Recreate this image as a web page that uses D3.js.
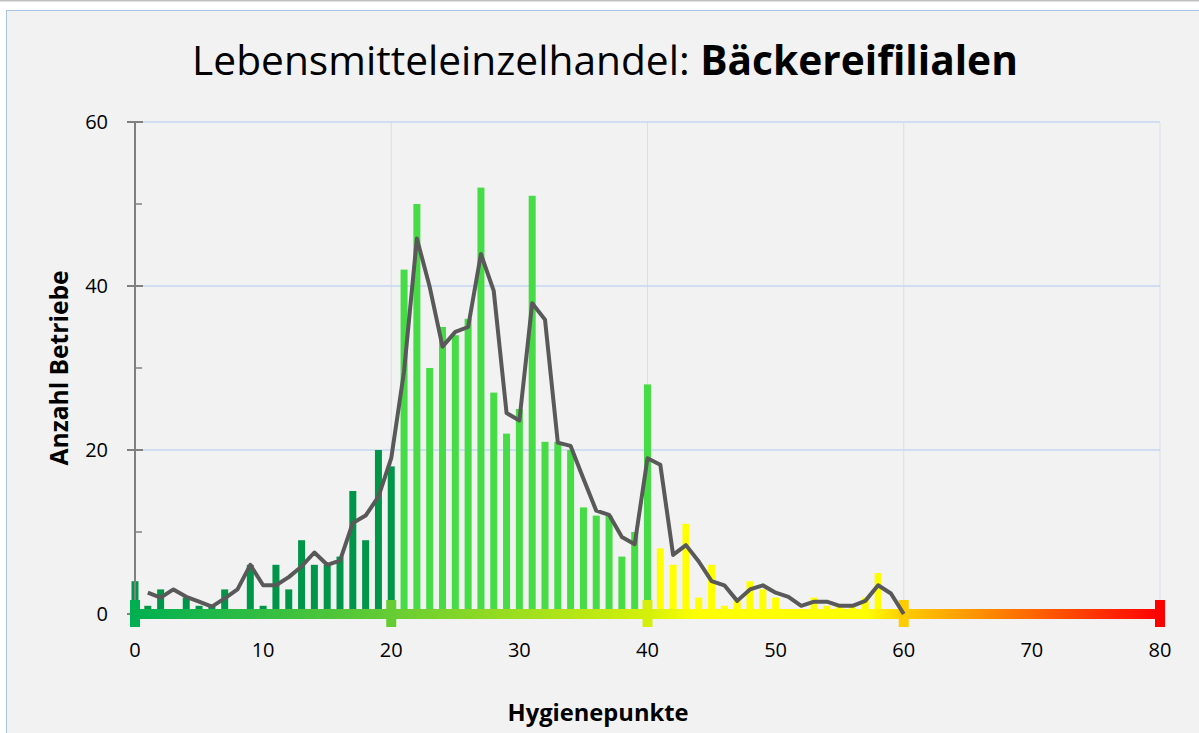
<!DOCTYPE html>
<html>
<head>
<meta charset="utf-8">
<script src="https://cdn.jsdelivr.net/npm/d3@7"></script>
<style>
body { margin: 0; background: #fff; }
text { font-family: "Open Sans", sans-serif; fill: #000; }
</style>
</head>
<body>
<script>
// Hygienepunkte 0..60, Anzahl Betriebe
const punkte = d3.range(0, 61);
const anzahl = [4, 1, 3, 0, 2, 1, 1, 3, 0, 6,
  1, 6, 3, 9, 6, 6, 7, 15, 9, 20,
  18, 42, 50, 30, 35, 34, 36, 52, 27, 22,
  25, 51, 21, 21, 20, 13, 12, 12, 7, 10,
  28, 8, 6, 11, 2, 6, 1, 2, 4, 3,
  2, 0, 0, 2, 1, 1, 1, 2, 5, 0, 0];

// gleitender Durchschnitt (Linie), ab Punkt 1
const trendX = d3.range(1, 61);
const trend = [2.6, 2.0, 3.0, 2.1, 1.5, 0.9, 1.9, 3.0, 6.0, 3.5,
  3.5, 4.5, 5.8, 7.5, 6.0, 6.5, 11.1, 12.0, 14.3, 19.0,
  29.6, 45.8, 39.9, 32.6, 34.4, 35.0, 43.9, 39.4, 24.5, 23.6,
  37.9, 35.9, 20.9, 20.5, 16.5, 12.6, 12.1, 9.4, 8.5, 19.0,
  18.2, 7.2, 8.4, 6.4, 4.0, 3.5, 1.6, 3.0, 3.5, 2.6,
  2.1, 1.0, 1.5, 1.5, 1.0, 1.0, 1.6, 3.5, 2.5, 0];

const xTicks = [0, 10, 20, 30, 40, 50, 60, 70, 80];
const yTicks = [0, 20, 40, 60];
const yMinor = [10, 30, 50];
const grenzen = [0, 20, 40, 60, 80];
const barFarben = ['#00964a', '#46dc46', '#ffff00', '#ff0000'];
const bandStops = [0, 20, 40, 44, 57, 60, 70, 80];
const bandFarben = ['#00b050', '#66cc33', '#d4f00a', '#ffff00', '#ffff00', '#ffcc00', '#ff6600', '#ff0000'];

const W = 1199, H = 733;
const svg = d3.select('body').append('svg').attr('width', W).attr('height', H);

// Hintergrund
svg.append('rect').attr('width', W).attr('height', H).attr('fill', '#fff');
svg.append('line').attr('x1', 0).attr('x2', W).attr('y1', 0.5).attr('y2', 0.5)
  .style('stroke', '#c0c0c0').style('stroke-width', 2);
svg.append('rect').attr('x', 6.5).attr('y', 10.5).attr('width', W).attr('height', H)
  .attr('fill', '#f2f2f2').style('stroke', '#a9c4eb');

const x = d3.scaleLinear().domain([0, 80]).range([135, 1160]);
const y = d3.scaleLinear().domain([0, 60]).range([614, 122]);
const barColor = d3.scaleThreshold().domain([20.5, 40.5, 60.5]).range(barFarben);
const bandColor = d3.scaleLinear().domain(bandStops).range(bandFarben);

// Gitter
svg.append('g').selectAll('line').data(grenzen.slice(1)).join('line')
  .attr('x1', d => x(d)).attr('x2', d => x(d)).attr('y1', y(60)).attr('y2', y(0))
  .style('stroke', '#dcdde6').style('stroke-width', 1);
svg.append('g').selectAll('line').data(yTicks.slice(1)).join('line')
  .attr('x1', x(0)).attr('x2', x(80)).attr('y1', d => y(d)).attr('y2', d => y(d))
  .style('stroke', '#c6d6f1').style('stroke-width', 1.5);

// Balken
const bw = 7;
svg.append('g').selectAll('rect').data(punkte).join('rect')
  .attr('x', d => x(d) - bw / 2).attr('width', bw)
  .attr('y', (d, i) => y(anzahl[i])).attr('height', (d, i) => y(0) - y(anzahl[i]))
  .attr('fill', d => barColor(d));

// y-Achse
svg.append('line').attr('x1', x(0)).attr('x2', x(0)).attr('y1', y(60)).attr('y2', y(0))
  .style('stroke', '#808080').style('stroke-width', 2);
svg.append('g').selectAll('line').data(yTicks).join('line')
  .attr('x1', x(0) - 8).attr('x2', x(0) + 8).attr('y1', d => y(d)).attr('y2', d => y(d))
  .style('stroke', '#808080').style('stroke-width', 2);
svg.append('g').selectAll('line').data(yMinor).join('line')
  .attr('x1', x(0)).attr('x2', x(0) + 7).attr('y1', d => y(d)).attr('y2', d => y(d))
  .style('stroke', '#808080').style('stroke-width', 1.5);
svg.append('g').selectAll('text').data(yTicks).join('text')
  .attr('x', 108).attr('y', d => y(d) + 7).attr('text-anchor', 'end')
  .style('font-size', '20px').text(d => d);

// Farbband auf der x-Achse
const grad = svg.append('defs').append('linearGradient').attr('id', 'band')
  .attr('gradientUnits', 'userSpaceOnUse')
  .attr('x1', x(0)).attr('x2', x(80)).attr('y1', 0).attr('y2', 0);
grad.selectAll('stop').data(bandStops).join('stop')
  .attr('offset', d => d / 80).attr('stop-color', (d, i) => bandFarben[i]);
svg.append('rect').attr('x', x(0)).attr('width', x(80) - x(0))
  .attr('y', y(0) - 5).attr('height', 10).attr('fill', 'url(#band)');
svg.append('g').selectAll('rect').data(grenzen).join('rect')
  .attr('x', d => x(d) - 5).attr('width', 10).attr('y', y(0) - 14).attr('height', 27)
  .attr('fill', d => bandColor(d));

// Linie
const line = d3.line().x(d => x(d[0])).y(d => y(d[1]));
svg.append('path').datum(trendX.map((d, i) => [d, trend[i]]))
  .attr('d', line).attr('fill', 'none')
  .style('stroke', '#595959').style('stroke-width', 4).style('stroke-linejoin', 'round');

// x-Beschriftung
svg.append('g').selectAll('text').data(xTicks).join('text')
  .attr('x', d => x(d)).attr('y', 657).attr('text-anchor', 'middle')
  .style('font-size', '20px').text(d => d);

function fit(t, w) {
  const l = t.node().getComputedTextLength();
  const fs = parseFloat(t.style('font-size'));
  t.style('font-size', (fs * w / l) + 'px');
}

// Titel
const title = svg.append('text').attr('x', 605).attr('y', 75).attr('text-anchor', 'middle')
  .style('font-size', '40px');
title.append('tspan').text('Lebensmitteleinzelhandel: ');
title.append('tspan').style('font-weight', 'bold').text('Bäckereifilialen');
fit(title, 826);

const xl = svg.append('text').attr('x', 598).attr('y', 721).attr('text-anchor', 'middle')
  .style('font-size', '20px').style('font-weight', 'bold').text('Hygienepunkte');
fit(xl, 181);

const yl = svg.append('text').attr('transform', 'translate(68,368) rotate(-90)')
  .attr('text-anchor', 'middle')
  .style('font-size', '20px').style('font-weight', 'bold').text('Anzahl Betriebe');
fit(yl, 195);
</script>
</body>
</html>
